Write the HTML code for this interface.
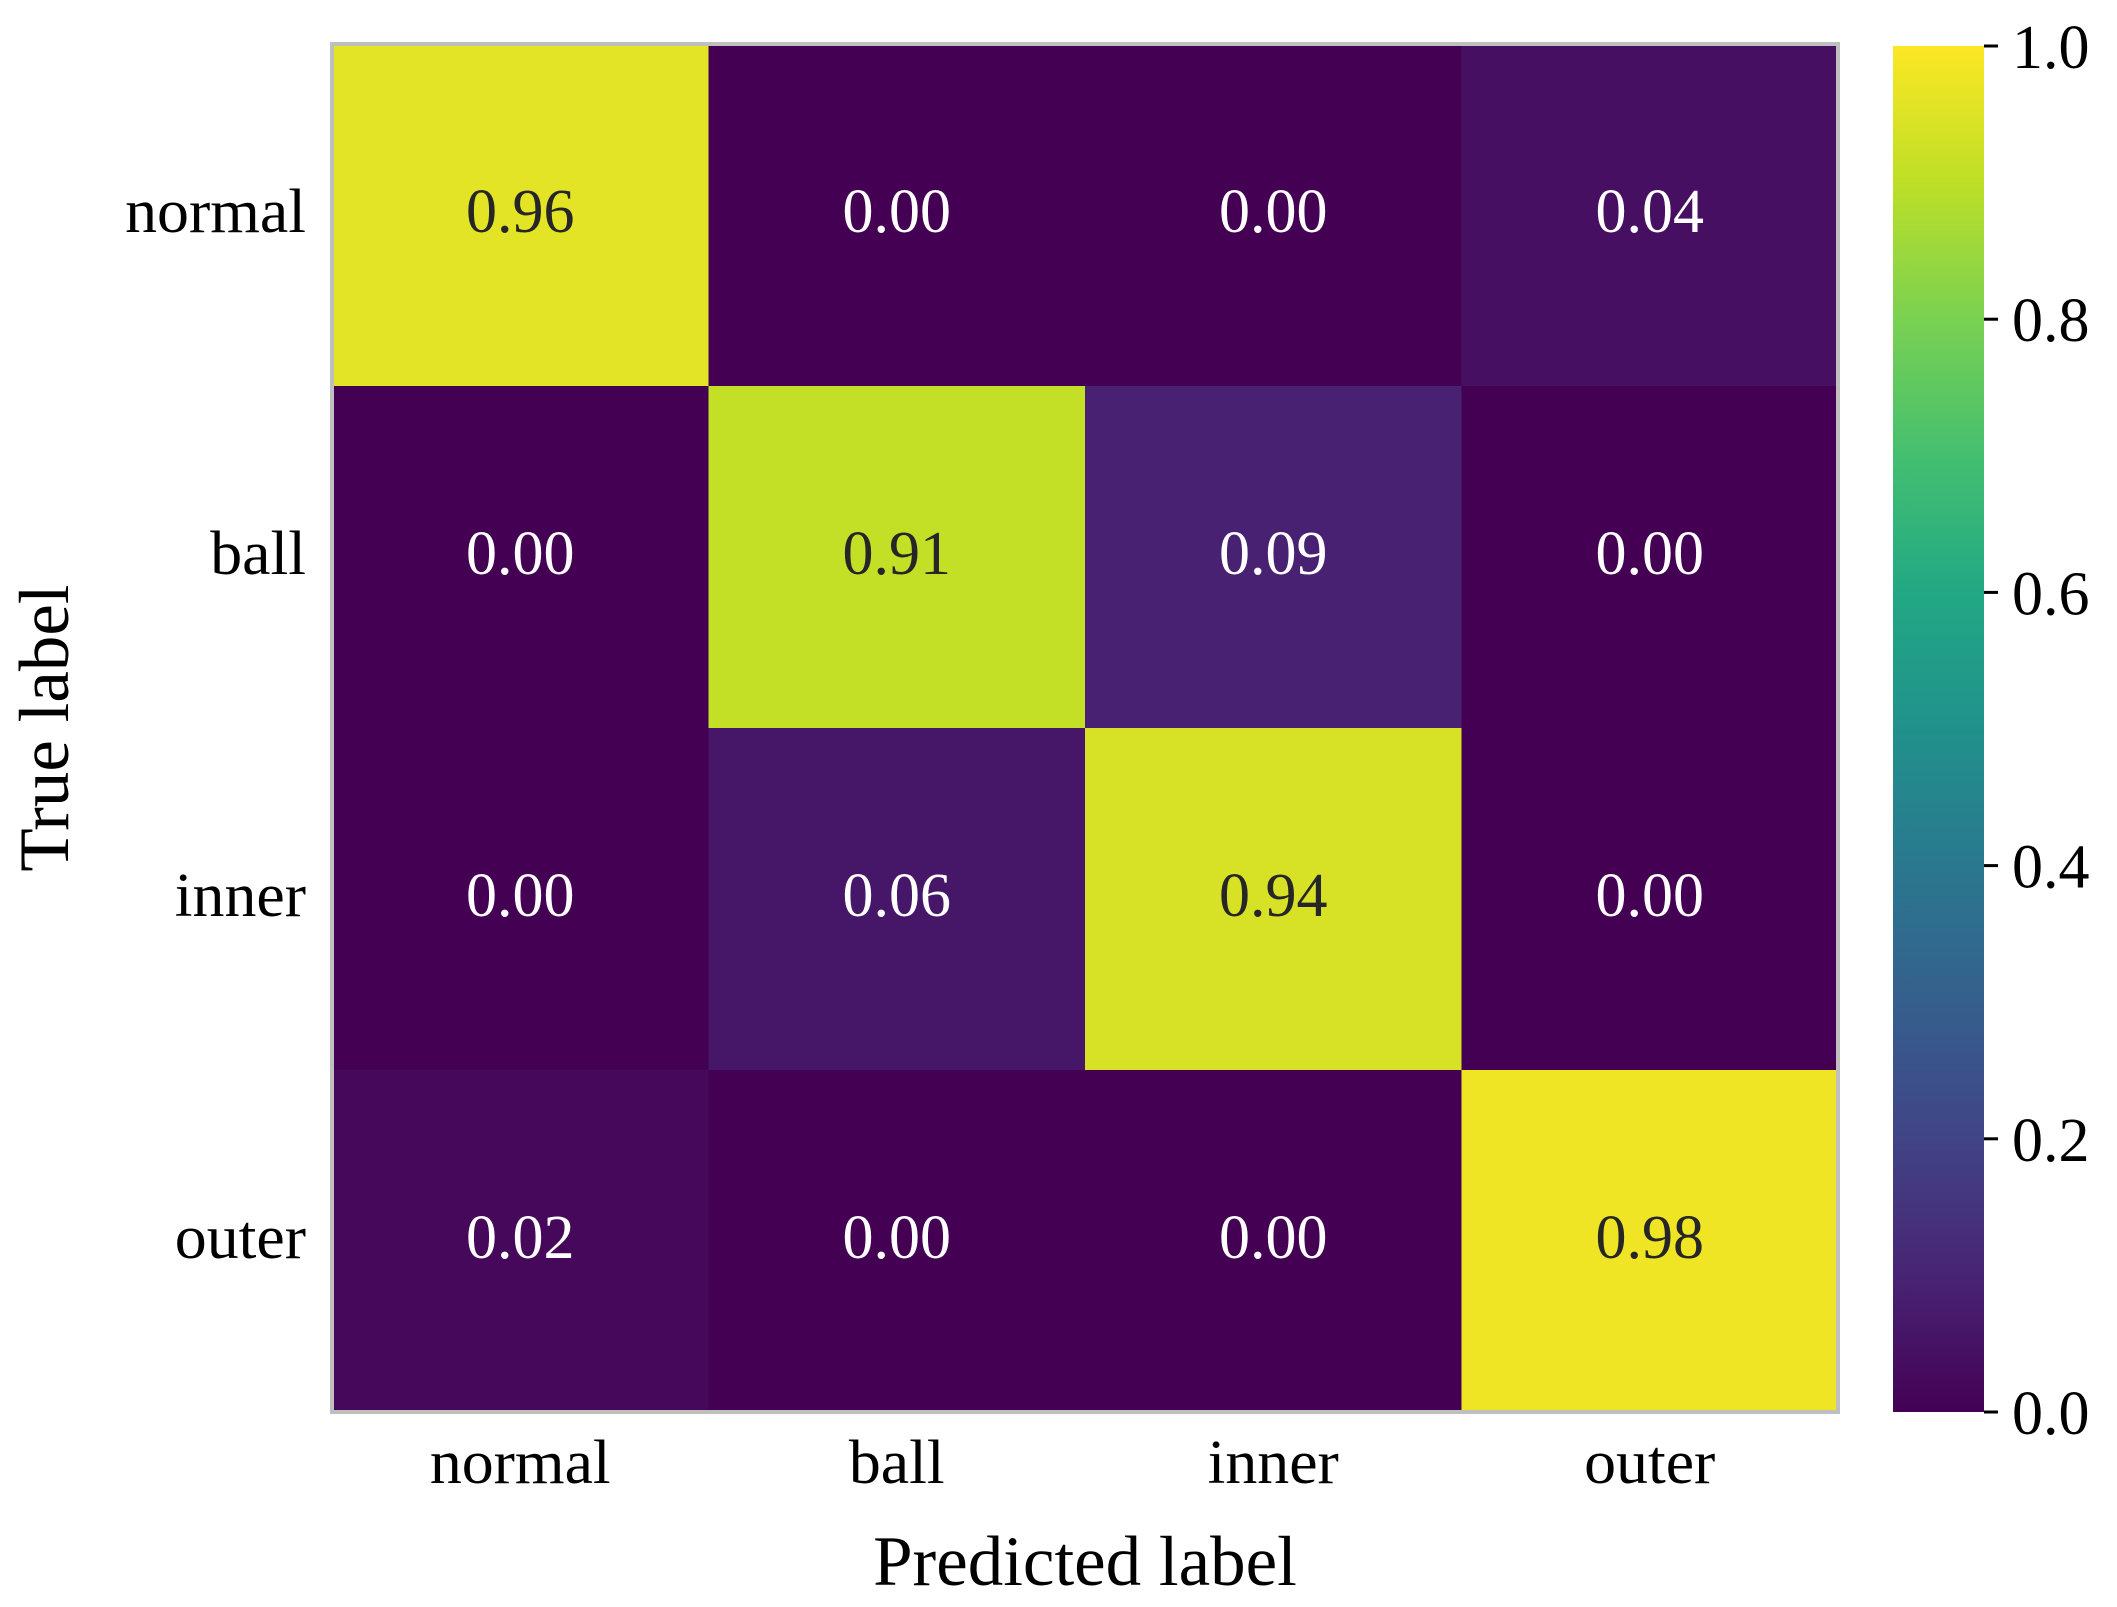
<!DOCTYPE html>
<html><head><meta charset="utf-8"><style>
html,body{margin:0;padding:0;background:#fff;}
svg{display:block;font-family:"Liberation Serif",serif;}
</style></head><body>
<svg id="chart" width="2117" height="1607" viewBox="0 0 2117 1607" xmlns="http://www.w3.org/2000/svg">
<defs>
<linearGradient id="vir" x1="0" y1="1" x2="0" y2="0">
<stop offset="0"/><stop offset="0.1"/><stop offset="0.2"/><stop offset="0.3"/><stop offset="0.4"/><stop offset="0.5"/><stop offset="0.6"/><stop offset="0.7"/><stop offset="0.8"/><stop offset="0.9"/><stop offset="1"/>
</linearGradient>
</defs>
<g id="cells"></g>
<rect x="332" y="44" width="1506" height="1368" fill="none" stroke="#bfbfbf" stroke-width="4"/>
<g id="labels"></g>
<rect x="1893" y="46" width="91" height="1366" fill="url(#vir)"/>
<g id="cbticks"></g>
<text x="1085" y="1585" font-size="71" text-anchor="middle">Predicted label</text>
<text transform="translate(68,728) rotate(-90)" font-size="71" text-anchor="middle">True label</text>
</svg>
<script>
const classes = ["normal","ball","inner","outer"];
const matrix = [
 [0.96,0.00,0.00,0.04],
 [0.00,0.91,0.09,0.00],
 [0.00,0.06,0.94,0.00],
 [0.02,0.00,0.00,0.98]
];
const cbTicks = [0.0,0.2,0.4,0.6,0.8,1.0];
const NS="http://www.w3.org/2000/svg";
const X0=332,X1=1838,Y0=44,Y1=1412,CB0=46,CB1=1412;
const n=classes.length, cw=(X1-X0)/n, ch=(Y1-Y0)/n;
const xs=i=>X0+i*cw, ys=i=>Y0+i*ch, cby=v=>CB1-v*(CB1-CB0);
const V=[[68,1,84],[72,36,117],[65,68,135],[53,95,141],[42,120,142],[33,145,140],[34,168,132],[68,191,112],[122,209,81],[189,223,38],[253,231,37]];
function vir(t){t=Math.max(0,Math.min(1,t));const p=t*10,i=Math.min(9,Math.floor(p)),f=p-i;const c=V[i].map((a,k)=>Math.round(a+(V[i+1][k]-a)*f));return `rgb(${c})`;}
document.querySelectorAll('#vir stop').forEach((s,i)=>{s.setAttribute('stop-color',vir(i/10));});
function el(t,a,p){const e=document.createElementNS(NS,t);for(const k in a)e.setAttribute(k,a[k]);p.appendChild(e);return e;}
const cells=document.getElementById('cells'), labels=document.getElementById('labels'), cbt=document.getElementById('cbticks');
matrix.forEach((row,r)=>row.forEach((v,c)=>{
 const rc=el('rect',{x:xs(c),y:ys(r),width:cw+0.5,height:ch+0.5,fill:vir(v)},cells);
 
 
 const t=el('text',{x:xs(c)+cw/2,y:ys(r)+ch/2+17,'font-size':62,'text-anchor':'middle',fill:v>0.5?'#262626':'#ffffff'},cells);
 t.textContent=v.toFixed(2);
 
 
}));
classes.forEach((c,i)=>{
 const tx=el('text',{x:xs(i)+cw/2,y:1483,'font-size':62,'text-anchor':'middle',textLength:null},labels);
 tx.removeAttribute('textLength');
 tx.textContent=c;
 tx.setAttribute('transform',`translate(${xs(i)+cw/2},0) scale(1.03,1) translate(${-(xs(i)+cw/2)},0)`);
 
 
 const ty=el('text',{x:306,y:ys(i)+ch/2+17,'font-size':62,'text-anchor':'end'},labels);
 ty.textContent=c;
 ty.setAttribute('transform','translate(306,0) scale(1.03,1) translate(-306,0)');
 
 
});
cbTicks.forEach(v=>{
 const y=cby(v);
 const l=el('line',{x1:1984,x2:1998,y1:y,y2:y,stroke:'#000','stroke-width':3},cbt);
 
 
 const t=el('text',{x:2012,y:y+22,'font-size':62},cbt);
 t.textContent=v.toFixed(1);
 
 
});
</script>
</body></html>
